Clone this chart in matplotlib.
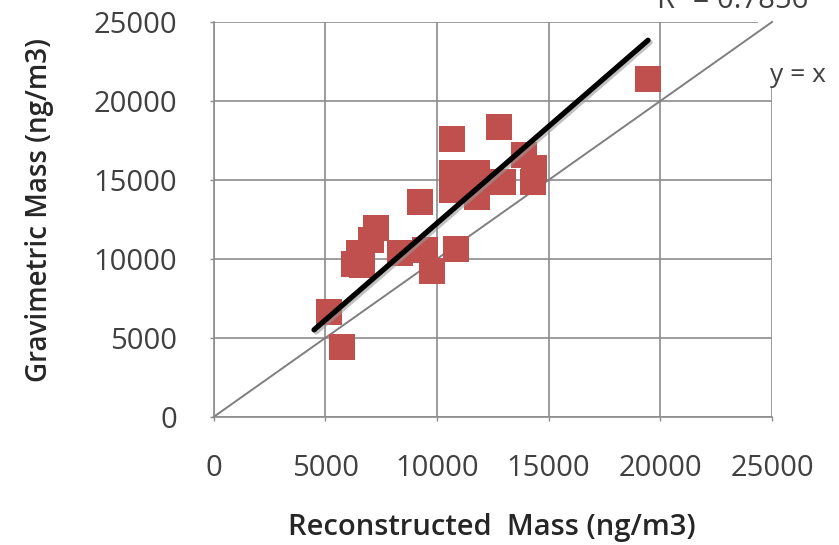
import numpy as np
import matplotlib
matplotlib.use("Agg")
import matplotlib.pyplot as plt
import matplotlib.patheffects as pe
from matplotlib.patches import Rectangle

# reconstructed vs gravimetric mass (ng/m3)
reconstructed = [5750, 5170, 7270, 7050, 6510, 6290, 6650, 8350, 9470, 10850,
                 9780, 9240, 10680, 12780, 10680, 11790, 10680, 11790, 13900,
                 14350, 14300, 12960, 19450]
gravimetric = [4430, 6650, 11960, 11200, 10380, 9680, 9620, 10380, 10570, 10630,
               9240, 13610, 17600, 18350, 15440, 15440, 14370, 13920, 16580,
               15760, 14870, 14870, 21390]

ticks = [0, 5000, 10000, 15000, 20000, 25000]
trend_slope = 1.226  # linear trendline, intercept 0
trend_x = [4500, 19450]
r2_text = "R² = 0.7856"

RED = "#C0504D"
GRID = "#8C8C8C"
TXT = "#404040"
FONT = "Open Sans"

fig = plt.figure(figsize=(8.39, 5.45), dpi=100)
ax = fig.add_axes([213.5 / 839, 128 / 545, 558.5 / 839, 395 / 545])

ax.set_xlim(0, 25000)
ax.set_ylim(0, 25000)
ax.set_xticks(ticks)
ax.set_yticks(ticks)
ax.set_xticklabels([str(t) for t in ticks], fontsize=21, color=TXT, family=FONT)
ax.set_yticklabels([str(t) for t in ticks], fontsize=21, color=TXT, family=FONT)
ax.tick_params(axis="both", length=3, width=1, color=GRID)
ax.tick_params(axis="y", pad=23)
ax.tick_params(axis="x", pad=24)

ax.grid(True, color=GRID, lw=1.2, zorder=0)
ax.set_axisbelow(True)
for s in ["top", "right"]:
    ax.spines[s].set_visible(False)
for s in ["left", "bottom"]:
    ax.spines[s].set_color(GRID)
    ax.spines[s].set_linewidth(1.2)

# white box behind the y = x label
ax.add_patch(Rectangle((0.975, 0.835), 0.3, 0.2, transform=ax.transAxes,
                       facecolor="white", edgecolor="none", clip_on=False, zorder=1))

# 1:1 line
ax.plot([0, 25000], [0, 25000], color="#7F7F7F", lw=1.4, zorder=2, clip_on=False)

ax.plot(reconstructed, gravimetric, "s", color=RED, markersize=19,
        markeredgewidth=0, zorder=3)

tx = np.array(trend_x)
ax.plot(tx, trend_slope * tx, color="black", lw=3.8, solid_capstyle="round", zorder=4,
        path_effects=[pe.SimpleLineShadow(offset=(1.5, -1.5), shadow_color="#999999", alpha=0.6),
                      pe.Normal()])

fig.text(770 / 839, 1 - 75 / 545, "y = x", fontsize=19, color=TXT, family=FONT,
         ha="left", va="center")
fig.text(657 / 839, 1 - 8 / 545, r2_text, fontsize=21, color=TXT, family=FONT,
         ha="left", va="baseline")

fig.text(492 / 839, 1 - 527 / 545, "Reconstructed  Mass (ng/m3)", fontsize=21,
         fontweight="semibold", color="#262626", family=FONT, ha="center", va="center")
fig.text(40 / 839, 1 - 210 / 545, "Gravimetric Mass (ng/m3)", fontsize=20,
         fontweight="semibold", color="#262626", family=FONT, ha="center", va="center",
         rotation=90)

fig.savefig("out.png", dpi=100)
